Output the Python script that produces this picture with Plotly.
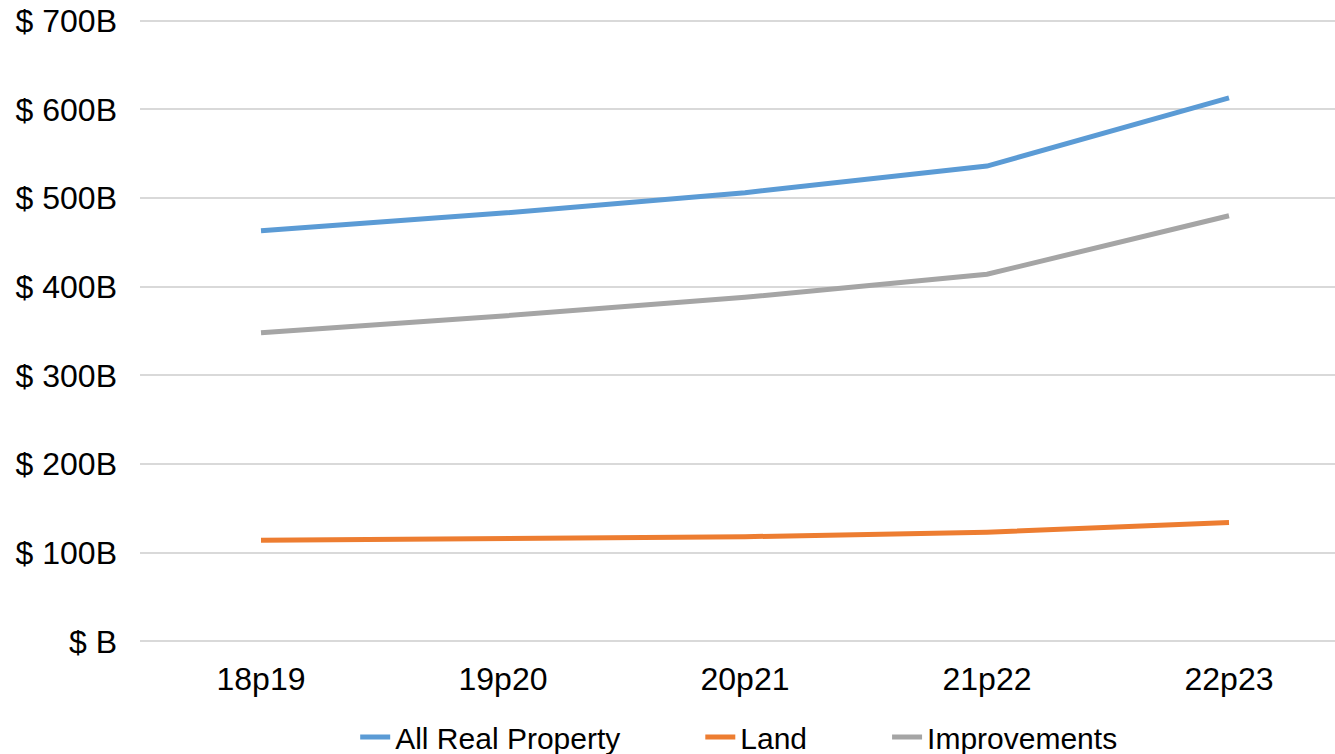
import plotly.graph_objects as go

# Fiscal years (prior-year / current-year pairs)
years = ["18p19", "19p20", "20p21", "21p22", "22p23"]

# Assessed values, in billions of dollars
all_real_property = [463, 483, 506, 536, 613]
land = [114, 116, 118, 123, 134]
improvements = [348, 367, 388, 414, 480]

y_ticks = [0, 100, 200, 300, 400, 500, 600, 700]
y_tick_text = ["$ B", "$ 100B", "$ 200B", "$ 300B", "$ 400B", "$ 500B", "$ 600B", "$ 700B"]

FONT = "Liberation Sans, Arial, sans-serif"
PAD = "\u00a0" * 9  # extra spacing between legend entries

series = [
    ("All Real Property" + PAD, all_real_property, "#5B9BD5"),
    ("Land" + PAD, land, "#ED7D31"),
    ("Improvements", improvements, "#A5A5A5"),
]

fig = go.Figure()
for name, values, color in series:
    fig.add_trace(go.Scatter(
        x=years, y=values, name=name, mode="lines",
        line=dict(color=color, width=5),
    ))

fig.update_layout(
    width=1335, height=754,
    margin=dict(l=140, r=0, t=18, b=110),
    paper_bgcolor="white", plot_bgcolor="white",
    font=dict(family=FONT, size=32, color="#000000"),
    showlegend=True,
    legend=dict(
        orientation="h", x=0.501, xanchor="center",
        yref="container", y=0.0225, yanchor="middle",
        font=dict(size=30), itemwidth=30,
    ),
)

fig.update_xaxes(
    type="category", range=[-0.5, 4.438],
    showgrid=False, showline=False, zeroline=False,
    ticks="", ticklabelstandoff=13,
)
fig.update_yaxes(
    range=[-3, 703], tickvals=y_ticks, ticktext=y_tick_text,
    showgrid=True, gridcolor="#D9D9D9", gridwidth=2,
    zeroline=False, showline=False, ticks="", ticklabelstandoff=22,
)

fig.write_html("out.html")
